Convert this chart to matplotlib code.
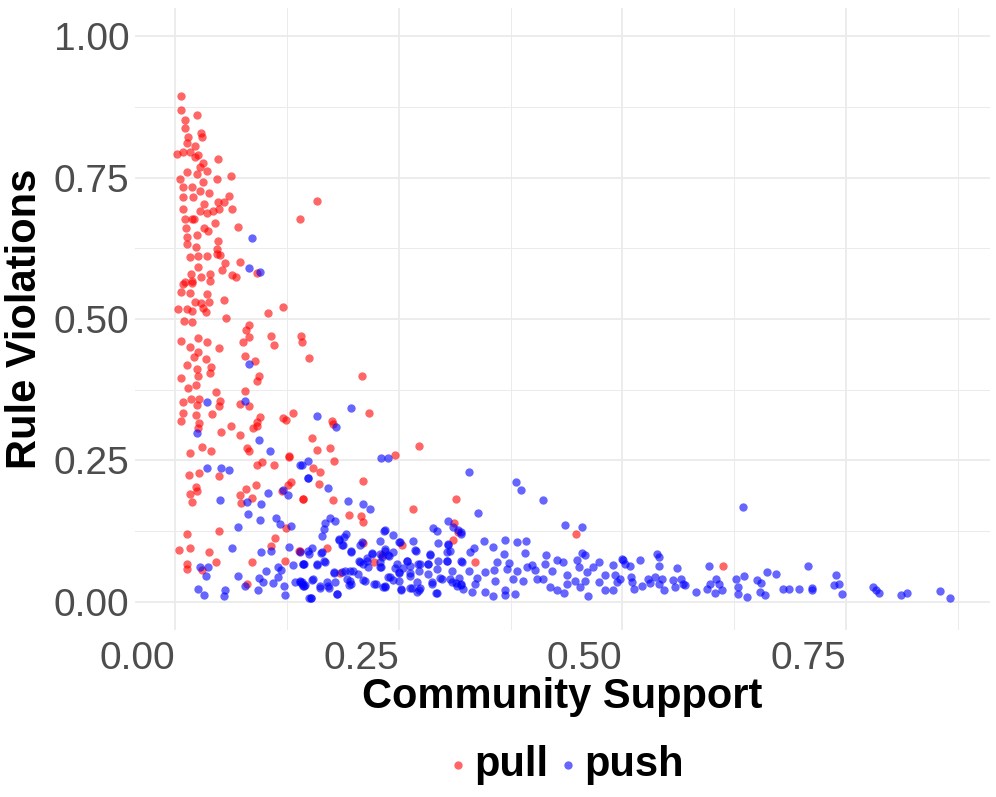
import matplotlib
matplotlib.use("Agg")
import matplotlib.pyplot as plt
from matplotlib.ticker import MultipleLocator

plt.rcParams["font.family"] = ["Liberation Sans", "DejaVu Sans"]

# pull requests: community support (x) vs rule violations (y)
pull_x = [
    0.006, 0.007, 0.024, 0.011, 0.011, 0.029, 0.030, 0.014, 0.013, 0.022,
    0.002, 0.009, 0.017, 0.026, 0.022, 0.048, 0.031, 0.028, 0.035, 0.013,
    0.024, 0.062, 0.005, 0.047, 0.031, 0.009, 0.019, 0.028, 0.038, 0.009,
    0.020, 0.060, 0.048, 0.032, 0.054, 0.009, 0.028, 0.036, 0.042, 0.049,
    0.063, 0.140, 0.011, 0.019, 0.021, 0.045, 0.012, 0.032, 0.037, 0.070,
    0.024, 0.013, 0.048, 0.013, 0.023, 0.047, 0.047, 0.016, 0.026, 0.036,
    0.050, 0.056, 0.072, 0.025, 0.052, 0.064, 0.068, 0.092, 0.018, 0.029,
    0.039, 0.011, 0.019, 0.039, 0.159,
    0.009, 0.019, 0.006, 0.016, 0.035, 0.022, 0.029, 0.038, 0.055, 0.003,
    0.013, 0.019, 0.031, 0.034, 0.121, 0.104, 0.010, 0.019, 0.057, 0.082,
    0.079, 0.083, 0.076, 0.107, 0.110, 0.141, 0.142, 0.007, 0.026, 0.036,
    0.016, 0.049, 0.025, 0.021, 0.034, 0.078, 0.089, 0.150, 0.013, 0.024,
    0.040, 0.039, 0.025, 0.006, 0.094, 0.091, 0.023, 0.014, 0.046, 0.078,
    0.009, 0.018, 0.027, 0.024, 0.050, 0.049, 0.073, 0.083, 0.009, 0.023,
    0.041, 0.007, 0.027, 0.025, 0.062, 0.095, 0.092, 0.091, 0.087, 0.121,
    0.124, 0.132, 0.051, 0.073, 0.030, 0.040, 0.016, 0.080, 0.083, 0.127,
    0.015, 0.027, 0.049, 0.091, 0.097, 0.110, 0.127, 0.023, 0.024, 0.016,
    0.019, 0.079, 0.090, 0.072, 0.086, 0.074, 0.126, 0.129, 0.119, 0.143,
    0.013, 0.049, 0.004, 0.016, 0.038, 0.013, 0.013, 0.030, 0.046, 0.086,
    0.112, 0.107, 0.124, 0.138, 0.123, 0.080,
    0.209, 0.217, 0.175, 0.176, 0.153, 0.158, 0.173, 0.177, 0.273, 0.246,
    0.154, 0.162, 0.161, 0.210, 0.143, 0.176, 0.194, 0.208, 0.210, 0.266,
    0.314, 0.312, 0.316, 0.311, 0.210, 0.170, 0.254, 0.222, 0.184, 0.140,
    0.448, 0.335, 0.613, 0.231,
]
pull_y = [
    0.894, 0.869, 0.860, 0.852, 0.837, 0.829, 0.822, 0.822, 0.811, 0.806,
    0.792, 0.795, 0.795, 0.790, 0.786, 0.783, 0.776, 0.769, 0.761, 0.760,
    0.756, 0.753, 0.747, 0.747, 0.742, 0.733, 0.733, 0.726, 0.723, 0.716,
    0.716, 0.717, 0.707, 0.703, 0.707, 0.694, 0.691, 0.687, 0.691, 0.694,
    0.694, 0.677, 0.677, 0.677, 0.677, 0.670, 0.661, 0.661, 0.655, 0.662,
    0.648, 0.645, 0.638, 0.633, 0.627, 0.624, 0.615, 0.609, 0.611, 0.611,
    0.613, 0.599, 0.601, 0.592, 0.587, 0.578, 0.574, 0.581, 0.580, 0.574,
    0.580, 0.565, 0.567, 0.567, 0.708,
    0.562, 0.564, 0.548, 0.546, 0.544, 0.530, 0.528, 0.530, 0.534, 0.518,
    0.518, 0.514, 0.519, 0.512, 0.521, 0.511, 0.496, 0.495, 0.502, 0.489,
    0.481, 0.468, 0.459, 0.470, 0.454, 0.470, 0.459, 0.461, 0.466, 0.459,
    0.451, 0.449, 0.442, 0.433, 0.429, 0.435, 0.426, 0.431, 0.419, 0.412,
    0.415, 0.405, 0.399, 0.396, 0.399, 0.390, 0.383, 0.378, 0.371, 0.373,
    0.353, 0.359, 0.359, 0.348, 0.355, 0.346, 0.350, 0.346, 0.334, 0.330,
    0.332, 0.320, 0.316, 0.307, 0.311, 0.327, 0.318, 0.311, 0.307, 0.325,
    0.322, 0.334, 0.300, 0.295, 0.274, 0.267, 0.263, 0.272, 0.267, 0.258,
    0.224, 0.228, 0.222, 0.242, 0.247, 0.242, 0.256, 0.203, 0.196, 0.191,
    0.177, 0.200, 0.207, 0.189, 0.184, 0.175, 0.207, 0.212, 0.196, 0.182,
    0.120, 0.125, 0.092, 0.095, 0.088, 0.067, 0.058, 0.057, 0.071, 0.071,
    0.113, 0.099, 0.131, 0.090, 0.072, 0.032,
    0.399, 0.334, 0.320, 0.314, 0.290, 0.269, 0.272, 0.249, 0.276, 0.260,
    0.237, 0.230, 0.209, 0.214, 0.182, 0.180, 0.154, 0.152, 0.141, 0.164,
    0.182, 0.140, 0.124, 0.110, 0.104, 0.095, 0.101, 0.071, 0.051, 0.090,
    0.119, 0.070, 0.063, 0.082,
]

# push requests
push_x = [
    0.086, 0.083, 0.095, 0.082, 0.035, 0.078, 0.024, 0.094, 0.106,
    0.036, 0.051, 0.060, 0.140, 0.148, 0.050, 0.080, 0.096, 0.104, 0.120,
    0.126, 0.081, 0.095, 0.113, 0.117, 0.070, 0.130, 0.063, 0.096, 0.107,
    0.127, 0.149, 0.028, 0.037, 0.034, 0.101, 0.115, 0.118, 0.132, 0.143,
    0.070, 0.094, 0.098, 0.109, 0.115, 0.122, 0.134, 0.139, 0.142, 0.144,
    0.078, 0.025, 0.032, 0.056, 0.054, 0.093, 0.123, 0.150,
    0.158, 0.196, 0.180, 0.230, 0.238, 0.149, 0.142, 0.148, 0.171, 0.193,
    0.210, 0.218, 0.173, 0.179, 0.168, 0.166, 0.164, 0.191, 0.189, 0.183,
    0.233, 0.243, 0.209, 0.229, 0.251, 0.266, 0.288, 0.293, 0.305, 0.294,
    0.305, 0.153, 0.164, 0.187, 0.196, 0.220, 0.235, 0.269, 0.285, 0.304,
    0.140, 0.144, 0.158, 0.167, 0.207, 0.214, 0.231, 0.239, 0.248, 0.259,
    0.263, 0.272, 0.283, 0.304, 0.177, 0.186, 0.195, 0.216, 0.229, 0.246,
    0.255, 0.273, 0.293, 0.309, 0.140, 0.154, 0.162, 0.171, 0.181, 0.194,
    0.195, 0.210, 0.224, 0.234, 0.240, 0.250, 0.253, 0.263, 0.270, 0.274,
    0.287, 0.293, 0.298, 0.309, 0.315, 0.152, 0.143, 0.263, 0.250,
    0.329, 0.381, 0.387, 0.411, 0.338, 0.436, 0.455, 0.320, 0.345, 0.369,
    0.382, 0.392, 0.355, 0.334, 0.330, 0.368, 0.391, 0.415, 0.455, 0.458,
    0.499, 0.321, 0.360, 0.373, 0.399, 0.414, 0.427, 0.434, 0.449, 0.474,
    0.489, 0.328, 0.346, 0.356, 0.371, 0.382, 0.393, 0.402, 0.421, 0.438,
    0.451, 0.460, 0.467, 0.481, 0.492, 0.337, 0.319, 0.335, 0.358, 0.378,
    0.389, 0.404, 0.411, 0.438, 0.447, 0.458, 0.474, 0.494, 0.332, 0.346,
    0.355, 0.369, 0.380, 0.369, 0.419, 0.427, 0.435, 0.453, 0.461, 0.481,
    0.489, 0.317,
    0.635, 0.501, 0.503, 0.508, 0.520, 0.539, 0.541, 0.541, 0.561, 0.597,
    0.707, 0.497, 0.510, 0.511, 0.513, 0.522, 0.529, 0.531, 0.536, 0.544,
    0.541, 0.546, 0.557, 0.559, 0.566, 0.568, 0.570, 0.582, 0.595, 0.598,
    0.603, 0.605, 0.608, 0.611, 0.627, 0.629, 0.629, 0.639, 0.636, 0.651,
    0.655, 0.654, 0.659, 0.662, 0.672, 0.679, 0.686, 0.697, 0.712, 0.712,
    0.736, 0.739, 0.742, 0.745, 0.780, 0.784, 0.787, 0.812, 0.818, 0.855, 0.866,
    0.183, 0.188, 0.150, 0.163, 0.197, 0.207, 0.143, 0.158, 0.166, 0.206,
    0.214, 0.220, 0.229, 0.210, 0.230, 0.177, 0.190, 0.199, 0.204, 0.142,
    0.153, 0.170, 0.179, 0.192, 0.197, 0.212, 0.222, 0.232, 0.162, 0.172,
    0.181, 0.152, 0.145,
    0.311, 0.316, 0.234, 0.235, 0.250, 0.268, 0.305, 0.307, 0.320, 0.244,
    0.238, 0.285, 0.304, 0.320, 0.259, 0.274, 0.283, 0.294, 0.229, 0.262,
    0.238, 0.250, 0.283, 0.296, 0.307, 0.244, 0.270, 0.287, 0.314, 0.319,
    0.235, 0.253, 0.265, 0.273, 0.292, 0.322,
]
push_y = [
    0.643, 0.590, 0.583, 0.420, 0.353, 0.355, 0.299, 0.286, 0.267,
    0.237, 0.237, 0.233, 0.242, 0.219, 0.180, 0.177, 0.173, 0.193, 0.198,
    0.189, 0.155, 0.145, 0.148, 0.138, 0.133, 0.134, 0.095, 0.088, 0.090,
    0.097, 0.090, 0.062, 0.062, 0.046, 0.055, 0.062, 0.057, 0.065, 0.067,
    0.046, 0.042, 0.035, 0.034, 0.044, 0.028, 0.035, 0.035, 0.032, 0.027,
    0.027, 0.023, 0.012, 0.021, 0.011, 0.021, 0.012, 0.007,
    0.329, 0.343, 0.309, 0.254, 0.254, 0.249, 0.242, 0.219, 0.201, 0.178,
    0.173, 0.164, 0.148, 0.143, 0.140, 0.128, 0.117, 0.120, 0.115, 0.110,
    0.125, 0.118, 0.106, 0.108, 0.106, 0.108, 0.131, 0.125, 0.143, 0.104,
    0.102, 0.095, 0.088, 0.101, 0.088, 0.087, 0.090, 0.090, 0.083, 0.088,
    0.088, 0.067, 0.065, 0.071, 0.071, 0.072, 0.079, 0.081, 0.067, 0.072,
    0.064, 0.067, 0.067, 0.072, 0.053, 0.053, 0.055, 0.062, 0.062, 0.060,
    0.060, 0.055, 0.058, 0.055, 0.037, 0.041, 0.027, 0.028, 0.014, 0.030,
    0.037, 0.039, 0.032, 0.027, 0.044, 0.037, 0.023, 0.025, 0.018, 0.025,
    0.032, 0.016, 0.041, 0.035, 0.028, 0.007, 0.028, 0.046, 0.053,
    0.230, 0.212, 0.198, 0.180, 0.157, 0.135, 0.132, 0.124, 0.108, 0.110,
    0.105, 0.107, 0.097, 0.095, 0.088, 0.084, 0.086, 0.083, 0.086, 0.082,
    0.075, 0.071, 0.070, 0.069, 0.065, 0.066, 0.073, 0.071, 0.074, 0.070,
    0.065, 0.055, 0.052, 0.057, 0.058, 0.054, 0.061, 0.057, 0.054, 0.048,
    0.061, 0.052, 0.061, 0.048, 0.048, 0.042, 0.031, 0.032, 0.037, 0.041,
    0.037, 0.041, 0.041, 0.032, 0.036, 0.036, 0.035, 0.035, 0.017, 0.018,
    0.011, 0.012, 0.014, 0.020, 0.026, 0.020, 0.016, 0.026, 0.011, 0.020,
    0.020, 0.042,
    0.167, 0.073, 0.067, 0.063, 0.073, 0.085, 0.079, 0.064, 0.060, 0.064,
    0.063, 0.041, 0.044, 0.035, 0.023, 0.028, 0.041, 0.034, 0.044, 0.041,
    0.032, 0.020, 0.038, 0.026, 0.041, 0.032, 0.029, 0.017, 0.023, 0.032,
    0.015, 0.041, 0.032, 0.020, 0.041, 0.026, 0.014, 0.009, 0.045, 0.038,
    0.034, 0.018, 0.012, 0.052, 0.049, 0.023, 0.023, 0.023, 0.024, 0.020,
    0.029, 0.048, 0.032, 0.013, 0.026, 0.020, 0.015, 0.012, 0.015, 0.019, 0.007,
    0.111, 0.100, 0.085, 0.087, 0.089, 0.101, 0.067, 0.066, 0.072, 0.072,
    0.078, 0.085, 0.085, 0.067, 0.061, 0.051, 0.054, 0.054, 0.049, 0.035,
    0.038, 0.035, 0.035, 0.041, 0.032, 0.037, 0.032, 0.026, 0.025, 0.025,
    0.014, 0.007, 0.030,
    0.133, 0.126, 0.126, 0.094, 0.105, 0.092, 0.100, 0.089, 0.120, 0.088,
    0.082, 0.084, 0.072, 0.072, 0.072, 0.067, 0.067, 0.072, 0.070, 0.051,
    0.044, 0.051, 0.049, 0.042, 0.041, 0.038, 0.035, 0.035, 0.033, 0.029,
    0.026, 0.021, 0.025, 0.021, 0.015, 0.023,
]

groups = ["pull", "push"]
colors = {"pull": "#FF0000", "push": "#0000FF"}
series = {"pull": (pull_x, pull_y), "push": (push_x, push_y)}

fig = plt.figure(figsize=(9.96, 7.97), dpi=100)
ax = fig.add_axes([0.1355, 0.2095, 0.8585, 0.7805])

handles = []
for g in groups:
    xs, ys = series[g]
    h = ax.scatter(xs, ys, s=36, color=colors[g], alpha=0.6, linewidths=0,
                   zorder=3, label=g)
    handles.append(h)

ax.set_xlim(-0.045, 0.911)
ax.set_ylim(-0.05, 1.05)
ax.xaxis.set_major_locator(MultipleLocator(0.25))
ax.xaxis.set_minor_locator(MultipleLocator(0.125))
ax.yaxis.set_major_locator(MultipleLocator(0.25))
ax.yaxis.set_minor_locator(MultipleLocator(0.125))
ax.xaxis.set_major_formatter(lambda v, p: f"{v:.2f}")
ax.yaxis.set_major_formatter(lambda v, p: f"{v:.2f}")
ax.grid(which="major", color="#EBEBEB", lw=1.3)
ax.grid(which="minor", color="#EBEBEB", lw=0.7)
ax.set_axisbelow(True)
for sp in ax.spines.values():
    sp.set_visible(False)
ax.tick_params(which="both", length=0)
ax.tick_params(axis="both", labelsize=28, labelcolor="#4D4D4D")
ax.tick_params(axis="x", pad=8)
ax.tick_params(axis="y", pad=4)
# x tick labels sit to the left of their gridline (right-justified)
for t in ax.get_xticklabels():
    t.set_ha("right")

ax.set_xlabel("Community Support", fontsize=30, fontweight="bold")
ax.set_ylabel("Rule Violations", fontsize=30, fontweight="bold")
ax.xaxis.label.set_va("center")
ax.yaxis.label.set_va("center")
ax.xaxis.set_label_coords(0.5, -(697 - 630) / 622)
ax.yaxis.set_label_coords((25 - 135) / 855, 0.5)

fig.legend(handles, groups, loc="center", bbox_to_anchor=(0.569, 0.040),
           ncol=2, frameon=False, prop={"size": 30, "weight": "bold"},
           handlelength=0.4, handletextpad=0.2, columnspacing=0.25,
           borderpad=0, scatterpoints=1)

fig.savefig("out.png", dpi=100)
